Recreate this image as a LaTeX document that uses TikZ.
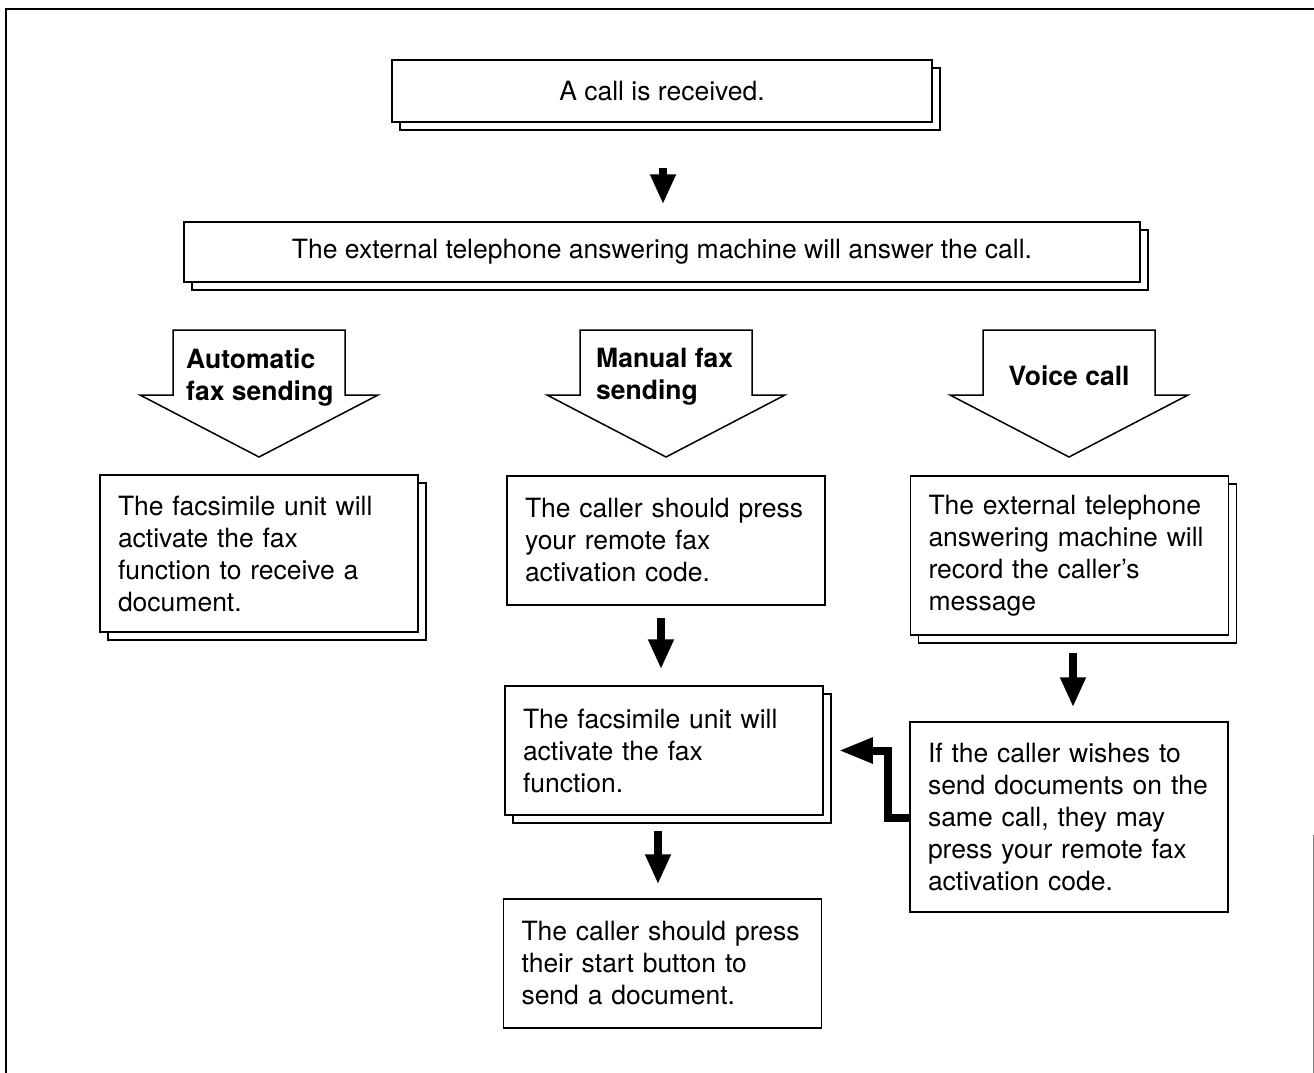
\documentclass[tikz,border=0pt]{standalone}
\usepackage{fontspec}
\setmainfont{TeX Gyre Heros}
\usetikzlibrary{arrows.meta,calc,shadows}
\begin{document}
\begin{tikzpicture}[x=1pt,y=-1pt,
  box/.style={draw=black, line width=1.5pt, fill=white, inner sep=0pt,
    font=\fontsize{26.5}{32}\selectfont},
  shbox/.style={box, copy shadow={shadow xshift=8pt, shadow yshift=-8pt,
    draw=black, fill=white, line width=1.3pt}},
  tbox/.style={text width=282pt, inner xsep=18pt, align=left},
  downarr/.style={line width=8pt, -{Triangle[width=24pt,length=30pt]}},
  hollow/.style={draw=black, line width=1.5pt, fill=white, line join=miter},
  lbl/.style={font=\bfseries\fontsize{26.5}{32}\selectfont, align=left, inner sep=0pt}]
\useasboundingbox (0,0) rectangle (1314,1073);
% outer frame
\draw[line width=2pt] (6,1073) -- (6,9) -- (1314,9);
\draw[line width=1pt, gray] (1313,835) -- (1313,1073);

% boxes
\node[shbox, minimum width=540pt, minimum height=62pt] (b1) at (662,91) {A call is received.};
\node[shbox, minimum width=956pt, minimum height=60pt] (b2) at (662,252) {The external telephone answering machine will answer the call.};
\node[shbox, tbox, minimum height=157pt] (b3) at (259,553.5) {The facsimile unit will\\activate the fax\\function to receive a\\document.};
\node[box, tbox, minimum height=129pt] (b4) at (666,540.5) {The caller should press\\your remote fax\\activation code.};
\node[shbox, tbox, minimum height=129pt] (b5) at (664,750.5) {The facsimile unit will\\activate the fax\\function.};
\node[box, tbox, minimum height=129pt] (b6) at (662.5,963.5) {The caller should press\\their start button to\\send a document.};
\node[shbox, tbox, minimum height=159pt] (b7) at (1069.5,555.5) {The external telephone\\answering machine will\\record the caller’s\\message};
\node[box, tbox, minimum height=190pt] (b8) at (1069,817) {If the caller wishes to\\send documents on the\\same call, they may\\press your remote fax\\activation code.};

% hollow branch arrows
\foreach \cx in {259,666,1069}
  \draw[hollow] (\cx-86,330) -- (\cx+86,330) -- (\cx+86,395) -- (\cx+119,395)
    -- (\cx,457) -- (\cx-119,395) -- (\cx-86,395) -- cycle;
\node[lbl, anchor=west] (lA) at (186,378) {Automatic\\fax sending};
\node[lbl, anchor=west] (lM) at (596,377) {Manual fax\\sending};
\node[lbl] (lV) at (1069,376) {Voice call};

% solid arrows
\draw[downarr] ($(b1.south)+(1,45)$) -- ($(b2.north)+(1,-17)$);
\draw[downarr] ($(b4.south)+(-5,12)$) -- ($(b5.north)+(-3,-16)$);
\draw[downarr] ($(b5.south)+(-6,15)$) -- ($(b6.north)+(-4.5,-14)$);
\draw[downarr] ($(b7.south)+(3.5,17)$) -- ($(b8.north)+(4,-14)$);

\coordinate (bend) at (888,0);
\draw[line width=8pt, line join=miter, -{Triangle[width=24pt,length=34pt]}]
  ($(b8.west)+(0,1)$) -| (bend |- b5.east) -- ($(b5.east)+(15,0)$);
\end{tikzpicture}
\end{document}
